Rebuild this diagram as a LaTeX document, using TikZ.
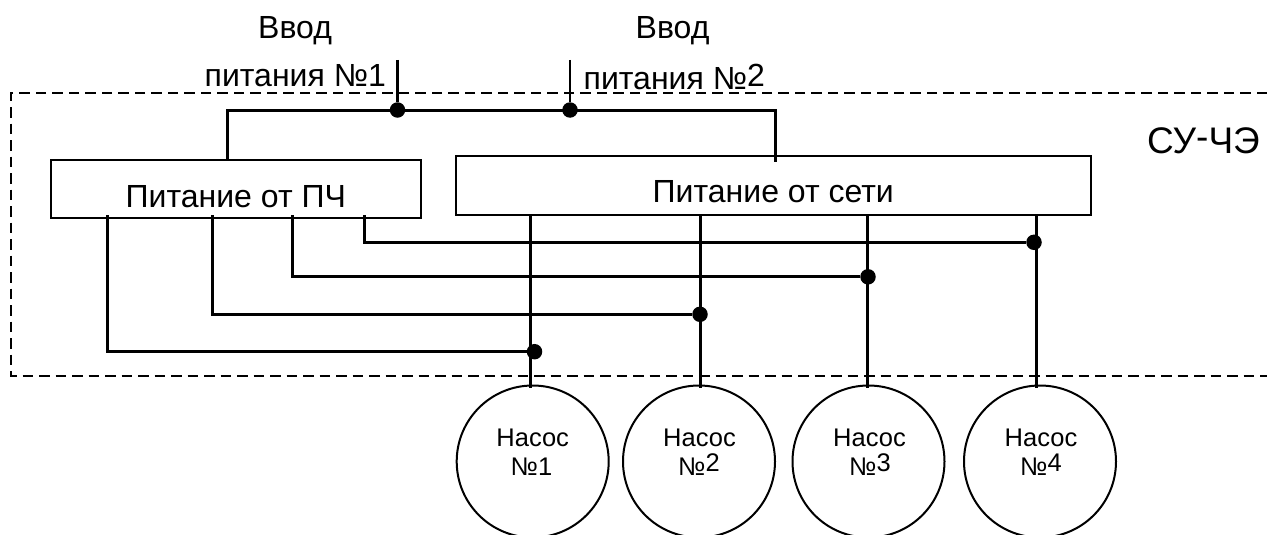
\documentclass[tikz,border=0pt]{standalone}
\usepackage{fontspec}
\setmainfont{Liberation Sans}
\newcommand{\up}[1]{\raisebox{3.5pt}{#1}}
\tikzset{
  x=1pt,y=-1pt,
  wire/.style={line width=3pt,line cap=butt,line join=miter},
  thinwire/.style={line width=2.6pt,line cap=butt},
  boxa/.style={draw,line width=2pt,rectangle,inner sep=0pt,outer sep=0pt,anchor=north west},
  pump/.style={draw,line width=2pt,circle,inner sep=0pt,minimum size=152pt,align=center},
  jdot/.style={circle,fill=black,inner sep=0pt,minimum size=15.5pt},
  lab/.style={inner sep=0pt,anchor=base west,font=\fontsize{32}{34}\selectfont},
  plab/.style={inner sep=0pt,anchor=base,font=\fontsize{25.5}{29}\selectfont},
  frame/.style={line width=2pt,dash pattern=on 10.5pt off 6pt},
}
\begin{document}
\begin{tikzpicture}
\useasboundingbox (0,0) rectangle (1267,535);
% dashed enclosure
\coordinate (ftr) at (1267,92.7);
\coordinate (ftl) at (11,92.7);
\coordinate (fbl) at (11,376);
\coordinate (fbr) at (1267,376);
\draw[frame] (ftr) -- (ftl) -- (fbl) -- (fbr);
% boxes
\node[boxa,minimum width=370.5pt,minimum height=57.7pt] (pch) at (50.6,160) {};
\node[boxa,minimum width=635pt,minimum height=58.5pt] (net) at (456.2,156.2) {};
% pumps
\node[pump] (p1) at (532.7,461.5) {};
\node[pump] (p2) at (699,461.5) {};
\node[pump] (p3) at (868.5,461.5) {};
\node[pump] (p4) at (1040,461.5) {};
% texts
\node[lab] (t1) at (258,38.5) {Ввод};
\node[lab] (t2) at (635.5,38.5) {Ввод};
\node[lab] (t3) at (204.5,86) {питания №1};
\node[lab] (t4) at (583.5,90) {питания №\up{2}};
\node[lab] (t5) at (125.5,207) {Питание от ПЧ};
\node[lab] (t6) at (652.5,202) {Питание от сети};
\node[lab,font=\fontsize{37}{39}\selectfont] (t7) at (1147,153) {СУ\up{-}ЧЭ};
\node[plab] (n1a) at (532.7,446) {Насос};
\node[plab] (n1b) at (531.5,475) {№1};
\node[plab] (n2a) at (699.5,446) {Насос};
\node[plab] (n2b) at (699,475) {№\up{2}};
\node[plab] (n3a) at (869.5,446) {Насос};
\node[plab] (n3b) at (870,475) {№\up{3}};
\node[plab] (n4a) at (1041,446) {Насос};
\node[plab] (n4b) at (1041,475) {№\up{4}};
% junction dots
\node[jdot] (ja) at (397.5,110) {};
\node[jdot] (jb) at (570,110) {};
\node[jdot] (j1) at (534.5,351.7) {};
\node[jdot] (j2) at (700,314.3) {};
\node[jdot] (j3) at (868,276.8) {};
\node[jdot] (j4) at (1034,242.3) {};
% free ends
\coordinate (fa) at (397.5,60);
\coordinate (fb) at (570,60);
\coordinate (busl) at (227,110);
\coordinate (busr) at (775,110);
\coordinate (pa) at (227,160);
\coordinate (netin) at (775,162);
\coordinate (o1) at (107.3,215);
\coordinate (o2) at (212.3,215);
\coordinate (o3) at (292.3,215);
\coordinate (o4) at (364.5,215);
\coordinate (s1) at (530.8,214);
\coordinate (s2) at (700,214);
\coordinate (s3) at (867,214);
\coordinate (s4) at (1036.3,214);
\coordinate (e1) at (530.8,388);
\coordinate (e2) at (700,388);
\coordinate (e3) at (867,388);
\coordinate (e4) at (1036.3,388);
% connectors
\draw[thinwire] (fa) -- (ja);
\draw[thinwire] (fb) -- (jb);
\draw[wire] (pa) -- (busl) -- (busr) -- (netin);
\draw[wire] (o1) |- (j1);
\draw[wire] (o2) |- (j2);
\draw[wire] (o3) |- (j3);
\draw[wire] (o4) |- (j4);
\draw[wire] (s1) -- (e1);
\draw[wire] (s2) -- (e2);
\draw[wire] (s3) -- (e3);
\draw[wire] (s4) -- (e4);
\end{tikzpicture}
\end{document}
